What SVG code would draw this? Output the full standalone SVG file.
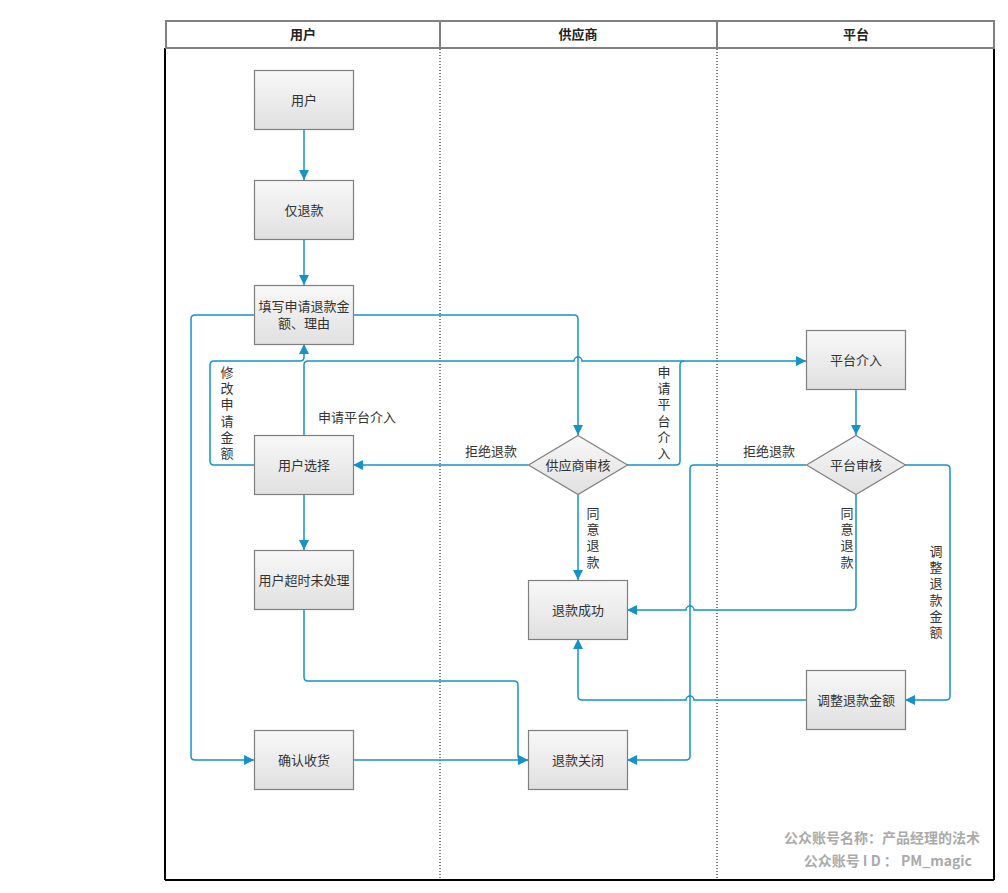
<svg xmlns="http://www.w3.org/2000/svg" width="1008" height="893" viewBox="0 0 1008 893">
<defs>
<linearGradient id="g" x1="0" y1="0" x2="0" y2="1">
<stop offset="0" stop-color="#f8f8f8"/>
<stop offset="1" stop-color="#e0e0e0"/>
</linearGradient>
<marker id="ar" markerUnits="userSpaceOnUse" markerWidth="10" markerHeight="10" viewBox="0 0 10 10" refX="10" refY="5" orient="auto">
<path d="M0,0 L10,5 L0,10 z" fill="#1593c8"/>
</marker>
</defs>
<style>
text{font-family:"Noto Sans CJK SC","Liberation Sans",sans-serif;font-size:13px;fill:#333}
text.vc{font-family:"Liberation Sans","Noto Sans CJK SC",sans-serif}
.hd{font-weight:bold;fill:#222}
.box{fill:url(#g);stroke:#7f7f7f;stroke-width:1.2}
.c{fill:none;stroke:#1593c8;stroke-width:1.5}
.lbl{text-anchor:middle}
.wm{font-weight:bold;fill:#aaa;font-size:14px}
</style>
<rect width="1008" height="893" fill="#fff"/>
<g id="frame">
<line x1="165" y1="48" x2="165" y2="880" stroke="#000" stroke-width="2"/>
<line x1="994" y1="48" x2="994" y2="880" stroke="#000" stroke-width="2"/>
<line x1="165" y1="880" x2="994" y2="880" stroke="#000" stroke-width="2"/>
<rect x="166" y="21" width="828" height="27" fill="#fff" stroke="#808080" stroke-width="2"/>
<line x1="440" y1="21" x2="440" y2="48" stroke="#808080" stroke-width="2"/>
<line x1="717" y1="21" x2="717" y2="48" stroke="#808080" stroke-width="2"/>
<line x1="440" y1="49" x2="440" y2="880" stroke="#000" stroke-width="1" stroke-dasharray="1,2"/>
<line x1="717" y1="49" x2="717" y2="880" stroke="#000" stroke-width="1" stroke-dasharray="1,2"/>
<text class="hd lbl" x="303" y="39">用户</text>
<text class="hd lbl" x="578" y="39">供应商</text>
<text class="hd lbl" x="856" y="39">平台</text>
</g>
<g id="connectors">
<path class="c" d="M304,129 V180" marker-end="url(#ar)"/>
<path class="c" d="M304,239 V285" marker-end="url(#ar)"/>
<path class="c" d="M353,315 H574 Q578,315 578,319 V435" marker-end="url(#ar)"/>
<path class="c" d="M254,315 H195 Q191,315 191,319 V756 Q191,760 195,760 H254" marker-end="url(#ar)"/>
<path class="c" d="M304,494 V550" marker-end="url(#ar)"/>
<path class="c" d="M254,465 H214 Q210,465 210,461 V365 Q210,361 214,361 H300 Q304,361 304,357 V344" marker-end="url(#ar)"/>
<path class="c" d="M304,435 V365 Q304,361 308,361 H574 A4,4 0 0 1 582,361 H806" marker-end="url(#ar)"/>
<path class="c" d="M627,465 H676 Q680,465 680,461 V365 Q680,361 684,361"/>
<path class="c" d="M528,465 H353" marker-end="url(#ar)"/>
<path class="c" d="M578,494 V580" marker-end="url(#ar)"/>
<path class="c" d="M856,389 V435" marker-end="url(#ar)"/>
<path class="c" d="M806,465 H694 Q690,465 690,469 V756 Q690,760 686,760 H627" marker-end="url(#ar)"/>
<path class="c" d="M856,494 V606 Q856,610 852,610 H694 A4,4 0 0 0 686,610 H627" marker-end="url(#ar)"/>
<path class="c" d="M905,465 H946 Q950,465 950,469 V696 Q950,700 946,700 H905" marker-end="url(#ar)"/>
<path class="c" d="M806,700 H694 A4,4 0 0 0 686,700 H582 Q578,700 578,696 V639" marker-end="url(#ar)"/>
<path class="c" d="M353,760 H528" marker-end="url(#ar)"/>
<path class="c" d="M304,609 V677 Q304,681 308,681 H514 Q518,681 518,685 V756 Q518,760 522,760 H528" marker-end="url(#ar)"/>
<text x="357" y="422" class="lbl">申请平台介入</text>
<text x="491" y="456" class="lbl">拒绝退款</text>
<text x="769" y="456" class="lbl">拒绝退款</text>
<g id="lbl-modify" class="lbl">
<text class="vc lbl" x="227" y="377">修</text><text class="vc lbl" x="227" y="393.2">改</text><text class="vc lbl" x="227" y="409.4">申</text><text class="vc lbl" x="227" y="425.6">请</text><text class="vc lbl" x="227" y="441.8">金</text><text class="vc lbl" x="227" y="458">额</text>
</g>
<g id="lbl-apply">
<text class="vc lbl" x="664" y="377">申</text><text class="vc lbl" x="664" y="393.2">请</text><text class="vc lbl" x="664" y="409.4">平</text><text class="vc lbl" x="664" y="425.6">台</text><text class="vc lbl" x="664" y="441.8">介</text><text class="vc lbl" x="664" y="458">入</text>
</g>
<g id="lbl-agree1">
<text class="vc lbl" x="593" y="518">同</text><text class="vc lbl" x="593" y="534.2">意</text><text class="vc lbl" x="593" y="550.4">退</text><text class="vc lbl" x="593" y="566.6">款</text>
</g>
<g id="lbl-agree2">
<text class="vc lbl" x="847" y="518">同</text><text class="vc lbl" x="847" y="534.2">意</text><text class="vc lbl" x="847" y="550.4">退</text><text class="vc lbl" x="847" y="566.6">款</text>
</g>
<g id="lbl-adjust">
<text class="vc lbl" x="936" y="556">调</text><text class="vc lbl" x="936" y="572.2">整</text><text class="vc lbl" x="936" y="588.4">退</text><text class="vc lbl" x="936" y="604.6">款</text><text class="vc lbl" x="936" y="620.8">金</text><text class="vc lbl" x="936" y="637">额</text>
</g>
</g>
<g id="n-user"><rect class="box" x="254.5" y="70.5" width="99" height="59"/><text class="lbl" x="304" y="105">用户</text></g>
<g id="n-refund-only"><rect class="box" x="254.5" y="180.5" width="99" height="59"/><text class="lbl" x="304" y="215">仅退款</text></g>
<g id="n-fill"><rect class="box" x="254.5" y="285.5" width="99" height="59"/><text class="lbl" x="304" y="311">填写申请退款金</text><text class="lbl" x="304" y="328">额、理由</text></g>
<g id="n-choose"><rect class="box" x="254.5" y="435.5" width="99" height="59"/><text class="lbl" x="304" y="470">用户选择</text></g>
<g id="n-timeout"><rect class="box" x="254.5" y="550.5" width="99" height="59"/><text class="lbl" x="304" y="585">用户超时未处理</text></g>
<g id="n-confirm"><rect class="box" x="254.5" y="730.5" width="99" height="59"/><text class="lbl" x="304" y="765">确认收货</text></g>
<g id="n-supplier-review"><polygon class="box" points="578,435.5 627.5,465 578,494.5 528.5,465"/><text class="lbl" x="578" y="470">供应商审核</text></g>
<g id="n-success"><rect class="box" x="528.5" y="580.5" width="99" height="59"/><text class="lbl" x="578" y="615">退款成功</text></g>
<g id="n-closed"><rect class="box" x="528.5" y="730.5" width="99" height="59"/><text class="lbl" x="578" y="765">退款关闭</text></g>
<g id="n-platform"><rect class="box" x="806.5" y="330.5" width="99" height="59"/><text class="lbl" x="856" y="365">平台介入</text></g>
<g id="n-platform-review"><polygon class="box" points="856,435.5 905.5,465 856,494.5 806.5,465"/><text class="lbl" x="856" y="470">平台审核</text></g>
<g id="n-adjust"><rect class="box" x="806.5" y="670.5" width="99" height="59"/><text class="lbl" x="856" y="705">调整退款金额</text></g>
<g id="watermark">
<text class="wm" x="980" y="843" text-anchor="end">公众账号名称：产品经理的法术</text>
<text class="wm" x="972" y="866" text-anchor="end">公众账号 I D ： PM_magic</text>
</g>
</svg>
